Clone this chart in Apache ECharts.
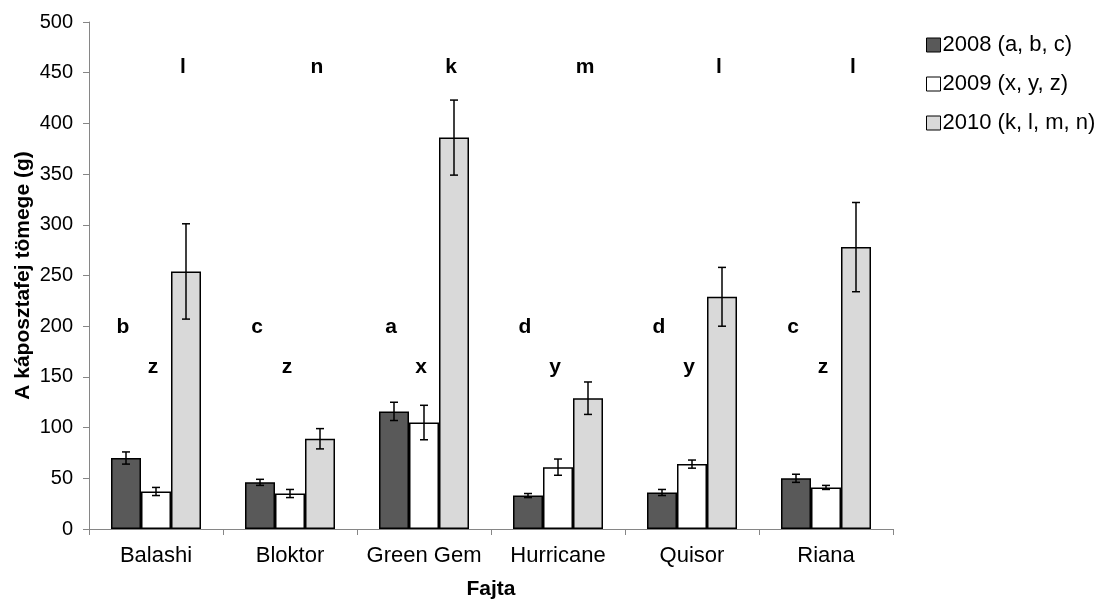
<!DOCTYPE html>
<html>
<head>
<meta charset="utf-8">
<script src="https://cdn.jsdelivr.net/npm/echarts@6/dist/echarts.min.js"></script>
<style>
  html, body { margin: 0; padding: 0; background: #ffffff; }
  #chart { width: 1106px; height: 601px; }
</style>
</head>
<body>
<div id="chart"></div>
<script>
// Cabbage head weight by variety and year, mean ± error
const categories = ['Balashi', 'Bloktor', 'Green Gem', 'Hurricane', 'Quisor', 'Riana'];
const seriesNames = ['2008 (a, b, c)', '2009 (x, y, z)', '2010 (k, l, m, n)'];

const mean2008 = [70, 46, 116, 33, 36, 50];
const err2008  = [6, 3, 9, 2, 3, 4];
const mean2009 = [37, 35, 105, 61, 64, 41];
const err2009  = [4, 4, 17, 8, 4, 2];
const mean2010 = [254, 89, 386, 129, 229, 278];
const err2010  = [47, 10, 37, 16, 29, 44];

// Significance group letters per year
const letters2008 = ['b', 'c', 'a', 'd', 'd', 'c'];
const letters2009 = ['z', 'z', 'x', 'y', 'y', 'z'];
const letters2010 = ['l', 'n', 'k', 'm', 'l', 'l'];

const FONT = '"Liberation Sans", Arial, sans-serif';
const BAR_W = 30;          // width of each bar in px
const AXIS_GREY = '#868686';
const colors = ['#595959', '#ffffff', '#d9d9d9'];
const letterLevel = [199, 160, 455]; // height (in axis units) of each year's letter row

const means = [mean2008, mean2009, mean2010];
const errs = [err2008, err2009, err2010];
const letters = [letters2008, letters2009, letters2010];

function barSeries(k) {
  return {
    type: 'bar',
    name: seriesNames[k],
    data: means[k],
    barWidth: BAR_W,
    barGap: '0%',
    itemStyle: { color: colors[k], borderColor: '#000', borderWidth: 1.5 },
    z: 2
  };
}

// slot: -1 left bar, 0 middle bar, 1 right bar within a category
function errorSeries(k) {
  const slot = k - 1;
  return {
    type: 'custom',
    name: 'err' + k,
    silent: true,
    z: 5,
    data: means[k].map((m, i) => [i, m, errs[k][i]]),
    renderItem(params, api) {
      const i = api.value(0), m = api.value(1), e = api.value(2);
      const hi = api.coord([i, m + e]);
      const lo = api.coord([i, m - e]);
      const x = hi[0] + slot * BAR_W;
      const cap = 4;
      const st = { stroke: '#000', lineWidth: 1.5 };
      return {
        type: 'group',
        children: [
          { type: 'line', shape: { x1: x, y1: hi[1], x2: x, y2: lo[1] }, style: st },
          { type: 'line', shape: { x1: x - cap, y1: hi[1], x2: x + cap, y2: hi[1] }, style: st },
          { type: 'line', shape: { x1: x - cap, y1: lo[1], x2: x + cap, y2: lo[1] }, style: st }
        ]
      };
    }
  };
}

function letterSeries(k) {
  const slot = k - 1;
  return {
    type: 'custom',
    name: 'letters' + k,
    silent: true,
    z: 6,
    data: categories.map((c, i) => [i, letterLevel[k]]),
    renderItem(params, api) {
      const p = api.coord([api.value(0), api.value(1)]);
      return {
        type: 'text',
        style: {
          text: letters[k][params.dataIndex],
          x: p[0] + slot * BAR_W - 3,
          y: p[1],
          align: 'center',
          verticalAlign: 'middle',
          fontSize: 21,
          fontWeight: 'bold',
          fontFamily: FONT,
          fill: '#000'
        }
      };
    }
  };
}

const chart = echarts.init(document.getElementById('chart'), null, { renderer: 'canvas' });

chart.setOption({
  animation: false,
  backgroundColor: '#ffffff',
  textStyle: { fontFamily: FONT, color: '#000' },
  grid: { left: 89, right: 213, top: 22, bottom: 72, containLabel: false, outerBoundsMode: 'none' },
  legend: {
    data: seriesNames,
    orient: 'vertical',
    left: 926,
    top: 34,
    padding: 0,
    itemWidth: 14,
    itemHeight: 14,
    itemGap: 17,
    icon: 'rect',
    itemStyle: { borderColor: '#000', borderWidth: 1 },
    textStyle: { fontSize: 22, color: '#000', fontFamily: FONT, lineHeight: 22, padding: [0, 0, 0, -3] }
  },
  xAxis: {
    type: 'category',
    data: categories,
    axisLine: { lineStyle: { color: AXIS_GREY, width: 1 } },
    axisTick: { show: true, length: 6, lineStyle: { color: AXIS_GREY } },
    axisLabel: { interval: 0, hideOverlap: false, fontSize: 22, color: '#000', fontFamily: FONT, margin: 16 },
    name: 'Fajta',
    nameLocation: 'middle',
    nameGap: 50,
    nameMoveOverlap: false,
    nameTextStyle: { fontSize: 21, fontWeight: 'bold', color: '#000', fontFamily: FONT }
  },
  yAxis: {
    type: 'value',
    min: 0,
    max: 500,
    interval: 50,
    splitLine: { show: false },
    axisLine: { show: true, lineStyle: { color: AXIS_GREY, width: 1 } },
    axisTick: { show: true, length: 6, lineStyle: { color: AXIS_GREY } },
    axisLabel: { fontSize: 20, color: '#000', fontFamily: FONT, margin: 16 },
    name: 'A káposztafej tömege (g)',
    nameLocation: 'middle',
    nameGap: 55,
    nameMoveOverlap: false,
    nameTextStyle: { fontSize: 21, fontWeight: 'bold', color: '#000', fontFamily: FONT }
  },
  series: [
    barSeries(0), barSeries(1), barSeries(2),
    errorSeries(0), errorSeries(1), errorSeries(2),
    letterSeries(0), letterSeries(1), letterSeries(2)
  ]
});
</script>
</body>
</html>
